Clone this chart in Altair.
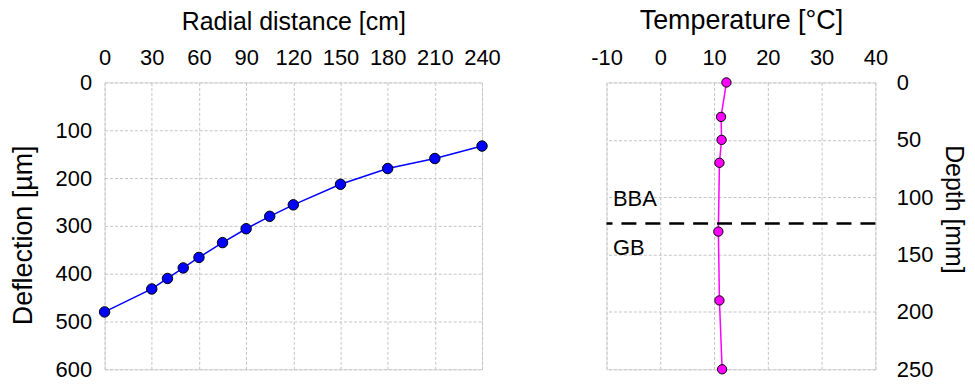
import altair as alt
import pandas as pd

# ---- data ----
radial_cm = [0, 30, 40, 50, 60, 75, 90, 105, 120, 150, 180, 210, 240]
deflection_um = [480, 432, 410, 388, 366, 335, 306, 280, 256, 213, 180, 159, 133]

depth_mm = [0, 30, 50, 70, 130, 190, 250]
temperature_c = [12.3, 11.3, 11.4, 11.0, 10.8, 11.0, 11.5]

radial_ticks = [0, 30, 60, 90, 120, 150, 180, 210, 240]
deflection_ticks = [0, 100, 200, 300, 400, 500, 600]
temp_ticks = [-10, 0, 10, 20, 30, 40]
depth_ticks = [0, 50, 100, 150, 200, 250]

layer_boundary_mm = [123]
layer_names = ["BBA", "GB"]

FONT = "Liberation Sans"
LABEL_SIZE = 22

defl = pd.DataFrame({"r": radial_cm, "d": deflection_um})
temp = pd.DataFrame({"t": temperature_c, "z": depth_mm})
boundary_df = pd.DataFrame({"z": layer_boundary_mm})


def axis(**kw):
    base = dict(
        ticks=False, tickSize=0, domain=False,
        gridDash=[3, 2], gridColor="#c4c4c4", gridWidth=1,
        labelFont=FONT, labelFontSize=LABEL_SIZE, labelColor="#000",
        labelExpr="'' + datum.value",
        titleFont=FONT, titleFontWeight="normal",
        titleColor="#000", labelFlush=False, labelOverlap=False,
    )
    base.update(kw)
    return alt.Axis(**base)


# ---- left panel: deflection bowl ----
lx = alt.X("r:Q", scale=alt.Scale(domain=[0, 240], nice=False, zero=False),
           axis=axis(orient="top", values=radial_ticks, title="Radial distance [cm]",
                     titleFontSize=25, labelPadding=13, titlePadding=12))
ly = alt.Y("d:Q", scale=alt.Scale(domain=[0, 600], reverse=True, nice=False),
           axis=axis(orient="left", values=deflection_ticks, title="Deflection [µm]",
                     titleFontSize=27, labelPadding=13, titlePadding=18, titleY=153))

left_line = alt.Chart(defl).mark_line(color="#0000FF", strokeWidth=1.5).encode(x=lx, y=ly)
left_pts = alt.Chart(defl).mark_point(
    filled=True, fill="#0000FF", stroke="#000", strokeWidth=1, size=110, opacity=1
).encode(x="r:Q", y="d:Q")
left = alt.layer(left_line, left_pts).properties(width=379, height=288)

# ---- right panel: temperature profile ----
rx = alt.X("t:Q", scale=alt.Scale(domain=[-10, 40], nice=False, zero=False),
           axis=axis(orient="top", values=temp_ticks, title="Temperature [°C]",
                     titleFontSize=27, labelPadding=13, titlePadding=12))
ry = alt.Y("z:Q", scale=alt.Scale(domain=[0, 250], reverse=True, nice=False),
           axis=axis(orient="right", values=depth_ticks, title="Depth [mm]",
                     titleFontSize=25, labelPadding=21, titlePadding=8, titleY=127))

right_line = alt.Chart(temp).mark_line(color="#FF00FF", strokeWidth=1.5).encode(
    x=rx, y=ry, order="z:Q")
right_pts = alt.Chart(temp).mark_point(
    filled=True, fill="#FF00FF", stroke="#000", strokeWidth=1, size=88, opacity=1
).encode(x="t:Q", y="z:Q")
boundary = alt.Chart(boundary_df).mark_rule(
    color="#000", strokeWidth=2.5, strokeDash=[15, 9]
).encode(y="z:Q")
lab_bba = alt.Chart(pd.DataFrame({"label": [layer_names[0]]})).mark_text(
    font=FONT, fontSize=LABEL_SIZE, fontWeight="normal",
    align="left", baseline="alphabetic", color="#000"
).encode(text="label:N", x=alt.datum(-8.8), y=alt.datum(108))
lab_gb = alt.Chart(pd.DataFrame({"label": [layer_names[1]]})).mark_text(
    font=FONT, fontSize=LABEL_SIZE, fontWeight="normal",
    align="left", baseline="alphabetic", color="#000"
).encode(text="label:N", x=alt.datum(-8.8), y=alt.datum(150))

right = alt.layer(right_line, boundary, right_pts, lab_bba, lab_gb).properties(
    width=270, height=288)

chart = alt.hconcat(left, right, spacing=125, bounds="flush").properties(
    padding={"left": 0, "top": -3, "right": 0, "bottom": 0},
).configure_view(stroke="#333", strokeWidth=1.5).configure(background="white")

chart.save("out.html", embed_options={"renderer": "svg", "actions": False})
